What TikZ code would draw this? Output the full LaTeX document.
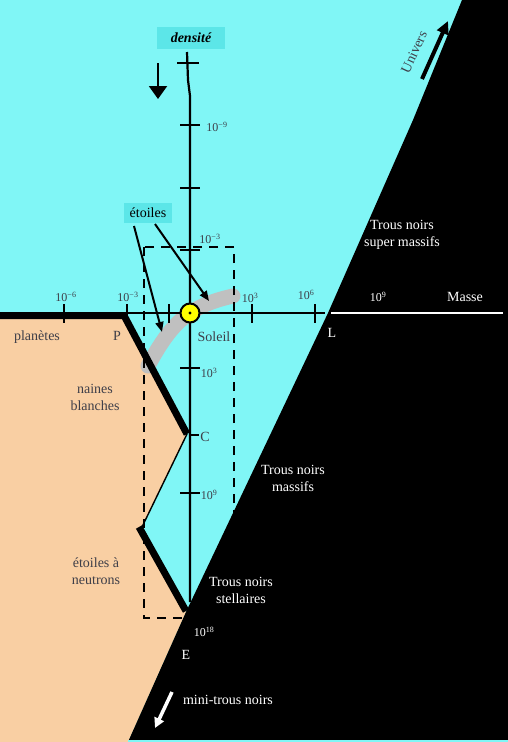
\documentclass[tikz,border=0pt]{standalone}
\usepackage{fontspec}
\setmainfont{Liberation Serif}
\usetikzlibrary{arrows.meta}
\definecolor{bgcyan}{RGB}{128,246,246}
\definecolor{labcyan}{RGB}{92,230,232}
\definecolor{peach}{RGB}{249,207,163}
\definecolor{bandgray}{RGB}{192,192,192}
\definecolor{inkgray}{RGB}{62,62,72}
\definecolor{sunyellow}{RGB}{255,255,0}
\begin{document}
\begin{tikzpicture}[x=1pt,y=-1pt,
  txt/.style={font=\fontsize{14}{17}\selectfont, inner sep=0pt, align=center},
  ticklab/.style={font=\fontsize{12}{14}\selectfont, inner sep=0pt, text=inkgray},
  axisline/.style={line width=2.2pt},
  heavy/.style={line width=7pt, line join=miter},
  tickmark/.style={line width=2.4pt},
  dashbox/.style={line width=1.8pt, dash pattern=on 9pt off 7pt},
  blackarrow/.style={line width=2pt, -{Triangle[length=10pt,width=8pt]}},
  labbox/.style={fill=labcyan, inner xsep=5pt, inner ysep=4pt, font=\fontsize{14}{17}\selectfont}
]
\useasboundingbox (0,0) rectangle (508,742);
% background
\fill[bgcyan] (0,0) rectangle (508,742);
% peach region
\fill[peach] (0,318) -- (126,318) -- (187,434) -- (142,527) -- (186,612) -- (128,742) -- (0,742) -- cycle;
% black region
\fill[black] (462,0) -- (508,0) -- (508,742) -- (128,742) -- (186,612) -- (328,313) -- (413,120) -- cycle;
\fill[bgcyan] (128,739.5) rectangle (508,742);
% gray band of stars
\draw[bandgray, line width=15pt, line cap=round]
  (148,366) .. controls (163,338) and (175,323) .. (190,313)
  .. controls (205,303) and (220,299) .. (233,296);
% dashed box
\draw[dashbox] (144,247) rectangle (234,618);
% axes
\draw[axisline] (124,313) -- (325,313);
\draw[white, line width=2.2pt] (331,313) -- (503,313);
\draw[axisline] (187,52) -- (188,80) -- (190,96) -- (190,602);
% thick boundaries
\draw[heavy] (0,315.5) -- (124,315.5) -- (187,434);
\draw[line width=1.4pt] (187,434) -- (142,527);
\draw[heavy] (139,527) -- (186,611);
% horizontal ticks
\foreach \xx in {64,127,169,252,315} \draw[tickmark] (\xx,304) -- (\xx,323);
% vertical ticks
\draw[tickmark] (177,63) -- (199,63);
\foreach \yy in {125,188,250,368,493} \draw[tickmark] (180,\yy) -- (200,\yy);
\draw[tickmark] (190,435) -- (199,435);
% sun
\node[circle, fill=sunyellow, draw=black, line width=2pt, minimum size=19pt, inner sep=0pt] (sun) at (190,313) {};
\fill[black] (sun.center) circle (1.6pt);
% tick labels
\node[ticklab] (hm6) at (66,297) {10\textsuperscript{−6}};
\node[ticklab] (hm3) at (128,297) {10\textsuperscript{−3}};
\node[ticklab] (hp3) at (250,298) {10\textsuperscript{3}};
\node[ticklab] (hp6) at (306,295) {10\textsuperscript{6}};
\node[ticklab, text=white] (hp9) at (378,297) {10\textsuperscript{9}};
\node[txt, text=white] (masse) at (465,297) {Masse};
\node[txt, text=white] (L) at (332,333) {L};
\node[ticklab] (vm9) at (217,127) {10\textsuperscript{−9}};
\node[ticklab] (vm3) at (210,239) {10\textsuperscript{−3}};
\node[ticklab] (vp3) at (209,373) {10\textsuperscript{3}};
\node[txt, text=inkgray] (C) at (205,437) {C};
\node[ticklab] (vp9) at (209,495) {10\textsuperscript{9}};
\node[ticklab, text=white] (vp18) at (204,632) {10\textsuperscript{18}};
\node[txt, text=white] (E) at (186,655) {E};
% region labels
\node[txt, text=inkgray] (planetes) at (37,337) {planètes};
\node[txt, text=inkgray] (P) at (117,336) {P};
\node[txt, text=inkgray] (soleil) at (214,337) {Soleil};
\node[txt, text=inkgray] (naines) at (95,397) {naines\\blanches};
\node[txt, text=inkgray] (neutrons) at (96,571) {étoiles à\\neutrons};
\node[txt, text=white] (tnsm) at (402,235) {Trous noirs\\super massifs};
\node[txt, text=white] (tnm) at (293,478) {Trous noirs\\massifs};
\node[txt, text=white] (tns) at (241,590) {Trous noirs\\stellaires};
\node[txt, text=white] (mini) at (228,700) {mini-trous noirs};
% labels with highlight
\node[labbox, inner xsep=14pt, inner ysep=6pt, font=\fontsize{14}{17}\selectfont\bfseries\itshape] (densite) at (191,38) {densité};
\node[labbox, inner xsep=6pt, inner ysep=5pt] (etoiles) at (148,213) {étoiles};
% arrows
\coordinate (d1) at (158,63);
\coordinate (d2) at (158,99);
\draw[line width=2pt, -{Triangle[length=13pt,width=18pt]}] (d1) -- (d2);
\coordinate (e1) at (134,226);
\coordinate (e1t) at (162,332);
\coordinate (e2) at (155,224);
\coordinate (e2t) at (209,301);
\draw[blackarrow] (e1) -- (e1t);
\draw[blackarrow] (e2) -- (e2t);
\coordinate (u1) at (422,79);
\coordinate (u2) at (448,21);
\draw[line width=4pt, -{Triangle[length=13pt,width=12pt]}] (u1) -- (u2);
\node[txt, text=inkgray, rotate=65] (univers) at (414,52) {Univers};
\coordinate (m1) at (172,692);
\coordinate (m2) at (155,728);
\draw[white, line width=3.5pt, -{Triangle[length=10pt,width=10pt]}] (m1) -- (m2);
\end{tikzpicture}
\end{document}
